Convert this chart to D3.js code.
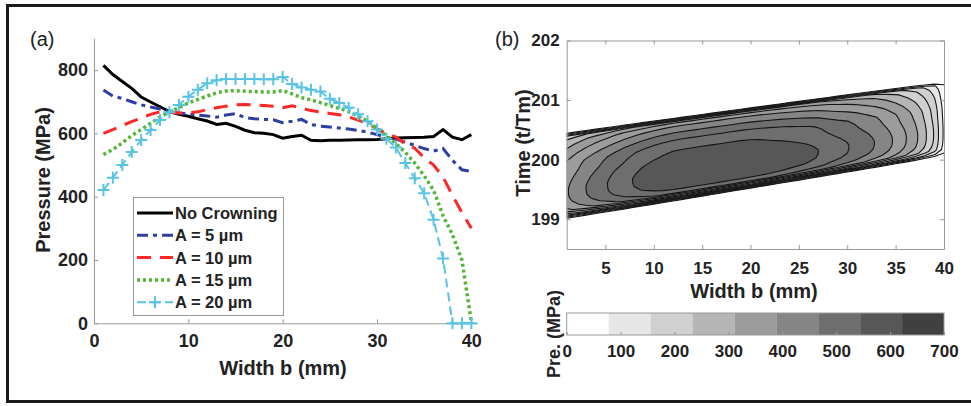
<!DOCTYPE html>
<html>
<head>
<meta charset="utf-8">
<script src="https://cdnjs.cloudflare.com/ajax/libs/d3/7.8.5/d3.min.js"></script>
<style>
  body { margin: 0; background: #fff; }
  svg { display: block; font-family: "Liberation Sans", Arial, sans-serif; }
  .tick text { font-weight: bold; fill: #222; }
  .tick line { stroke: #999; }
  .domain { stroke: #999; }
</style>
</head>
<body>
<div id="chart"></div>
<script>
// ---------- panel (a): pressure along the width ----------
let widths = d3.range(1, 41);
let noCrowning = [815, 786, 764, 742, 715, 699, 684, 669, 660, 654, 646, 639, 628, 632, 622, 610, 602, 600, 596, 585,
  590, 594, 578, 577, 578, 578, 579, 580, 580, 581, 583, 585, 586, 587, 588, 590, 612, 588, 580, 596];
let crownA5 = [737, 718, 710, 700, 690, 683, 677, 670, 664, 661, 658, 655, 651, 658, 662, 650, 646, 644, 643, 634,
  638, 644, 628, 623, 620, 617, 614, 609, 604, 596, 588, 582, 572, 562, 552, 544, 552, 515, 485, 480];
let crownA10 = [600, 612, 625, 637, 648, 660, 668, 667, 664, 665, 668, 675, 681, 686, 690, 691, 690, 688, 686, 681,
  687, 680, 672, 667, 663, 659, 652, 642, 632, 614, 600, 588, 566, 553, 523, 500, 462, 404, 350, 300];
let crownA15 = [533, 549, 570, 593, 612, 632, 652, 668, 681, 696, 707, 718, 728, 734, 735, 733, 732, 731, 731, 735,
  725, 713, 706, 697, 688, 679, 669, 654, 638, 616, 592, 568, 540, 506, 466, 420, 340, 280, 200, 5];
let crownA20 = [421, 460, 500, 541, 579, 611, 642, 667, 690, 716, 738, 758, 768, 772, 772, 772, 772, 771, 771, 778,
  756, 745, 738, 732, 709, 696, 681, 660, 638, 612, 583, 555, 506, 458, 411, 327, 205, 0, 0, 0];
let seriesNames = ['No Crowning', 'A = 5 \u00b5m', 'A = 10 \u00b5m', 'A = 15 \u00b5m', 'A = 20 \u00b5m'];
let pressureTicks = [0, 200, 400, 600, 800];
let widthTicksA = [0, 10, 20, 30, 40];

// ---------- panel (b): pressure map over width and time ----------
// pressure at the centre of the contact band for width 1..40 mm
let contourPeak = [395, 423, 450, 474, 495, 518, 537, 553, 570, 583, 592, 598, 600, 600, 600, 600, 600, 600, 600, 598,
  595, 590, 585, 578, 570, 561, 550, 533, 517, 503, 485, 466, 446, 420, 390, 354, 315, 262, 195, 90];
// relative pressure across the contact band, from its lower edge to its upper edge
let bandShape = [0, 0.55, 0.85, 0.93, 0.975, 0.995, 1.0, 1.0, 0.99, 0.975, 0.955, 0.935, 0.92, 0.90, 0.86, 0.82,
  0.77, 0.72, 0.66, 0.55, 0];
let bandEdgeWidth = [1, 40];
let bandBottom = [199.0, 200.05];
let bandTop = [200.46, 201.32];
let contourLevels = [50, 100, 150, 200, 250, 300, 350, 400, 450, 500, 550];
let widthTicksB = [5, 10, 15, 20, 25, 30, 35, 40];
let timeTicks = [199, 200, 201, 202];
let colorbarTicks = [0, 100, 200, 300, 400, 500, 600, 700];
let levelColors = ['#ffffff', '#e6e6e6', '#d0d0d0', '#b5b5b5', '#9c9c9c', '#858585', '#6e6e6e', '#575757', '#404040'];

let svg = d3.select('#chart').append('svg')
  .attr('width', 971)
  .attr('height', 406);

// outer frame
svg.append('path')
  .attr('d', 'M971,5.5 H7.5 V401.5 H971')
  .attr('fill', 'none')
  .attr('stroke', '#1a1a1a')
  .attr('stroke-width', 3);

// ================= panel (a) =================
let xA = d3.scaleLinear().domain([0, 40.6]).range([94, 477]);
let yA = d3.scaleLinear().domain([0, 900]).range([323.3, 38.4]);

svg.append('g')
  .attr('transform', 'translate(0,323.3)')
  .call(d3.axisBottom(xA).tickValues(widthTicksA).tickSizeInner(-4).tickSizeOuter(0).tickPadding(11))
  .call(g => g.selectAll('text').style('font-size', '18px'));

svg.append('g')
  .attr('transform', 'translate(94,0)')
  .call(d3.axisLeft(yA).tickValues(pressureTicks).tickSizeInner(-4).tickSizeOuter(0).tickPadding(6))
  .call(g => g.selectAll('text').style('font-size', '18px'));

let line = d3.line()
  .x(function(d, i) { return xA(widths[i]); })
  .y(function(d) { return yA(d); });

let styles = [
  { data: noCrowning, color: '#000000', width: 3, dash: null },
  { data: crownA5, color: '#2f3f9f', width: 3, dash: '11,5,4,5' },
  { data: crownA10, color: '#ff2626', width: 3, dash: '14,9' },
  { data: crownA15, color: '#52b535', width: 3.5, dash: '3,3' },
  { data: crownA20, color: '#58c4e2', width: 2, dash: '9,5' }
];

styles.forEach(function(s) {
  svg.append('path')
    .attr('d', line(s.data))
    .attr('fill', 'none')
    .attr('stroke', s.color)
    .attr('stroke-width', s.width)
    .attr('stroke-dasharray', s.dash);
});

// plus markers for A = 20 um
let plus = 'M-6,0H6M0,-6V6';
svg.append('g').selectAll('path')
  .data(crownA20)
  .enter()
  .append('path')
  .attr('transform', function(d, i) { return 'translate(' + xA(widths[i]) + ',' + yA(d) + ')'; })
  .attr('d', plus)
  .attr('stroke', '#58c4e2')
  .attr('stroke-width', 2)
  .attr('fill', 'none');

// legend
let legend = svg.append('g');
legend.append('rect')
  .attr('x', 133.5).attr('y', 197.5)
  .attr('width', 150).attr('height', 118)
  .attr('fill', '#fff')
  .attr('stroke', '#999');

styles.forEach(function(s, i) {
  let y = 213 + i * 22.3;
  legend.append('line')
    .attr('x1', 137).attr('x2', 173)
    .attr('y1', y).attr('y2', y)
    .attr('stroke', s.color)
    .attr('stroke-width', s.width)
    .attr('stroke-dasharray', s.dash);
  if (i == 4) {
    legend.append('path')
      .attr('transform', 'translate(155,' + y + ')')
      .attr('d', plus)
      .attr('stroke', s.color)
      .attr('stroke-width', 2);
  }
  legend.append('text')
    .attr('x', 175).attr('y', y + 6)
    .style('font-size', '16.5px')
    .style('font-weight', 'bold')
    .attr('fill', '#222')
    .text(seriesNames[i]);
});

svg.append('text')
  .attr('x', 30).attr('y', 46)
  .style('font-size', '20px')
  .attr('fill', '#222')
  .text('(a)');

svg.append('text')
  .attr('transform', 'translate(50,180) rotate(-90)')
  .attr('text-anchor', 'middle')
  .style('font-size', '20px')
  .style('font-weight', 'bold')
  .attr('fill', '#222')
  .text('Pressure (MPa)');

svg.append('text')
  .attr('x', 283).attr('y', 375)
  .attr('text-anchor', 'middle')
  .style('font-size', '20px')
  .style('font-weight', 'bold')
  .attr('fill', '#222')
  .text('Width b (mm)');

// ================= panel (b) =================
let xB = d3.scaleLinear().domain([1, 40]).range([566.7, 944]);
let yB = d3.scaleLinear().domain([198.5, 202]).range([249, 40.5]);
let bottomEdge = d3.scaleLinear().domain(bandEdgeWidth).range(bandBottom);
let topEdge = d3.scaleLinear().domain(bandEdgeWidth).range(bandTop);

svg.append('clipPath')
  .attr('id', 'clipB')
  .append('rect')
  .attr('x', xB(1)).attr('y', yB(202))
  .attr('width', xB(40) - xB(1))
  .attr('height', yB(198.5) - yB(202));

// grid: columns = width 1..40, rows = position across the band
let nCols = contourPeak.length;
let nRows = bandShape.length;
let grid = new Array(nCols * nRows);
for (let j = 0; j < nRows; j++) {
  for (let i = 0; i < nCols; i++) {
    grid[j * nCols + i] = contourPeak[i] * bandShape[j];
  }
}

let levelStep = 700 / 9;
let contours = d3.contours().size([nCols, nRows]).thresholds(contourLevels)(grid);

let project = d3.geoTransform({
  point: function(px, py) {
    let b = px + 0.5;
    let u = (py - 0.5) / (nRows - 1);
    let t = bottomEdge(b) + u * (topEdge(b) - bottomEdge(b));
    this.stream.point(xB(b), yB(t));
  }
});
let contourPath = d3.geoPath(project);

svg.append('g')
  .attr('clip-path', 'url(#clipB)')
  .selectAll('path')
  .data(contours)
  .enter()
  .append('path')
  .attr('d', contourPath)
  .attr('fill', function(d) { return levelColors[Math.floor((d.value + 25) / levelStep)]; })
  .attr('stroke', '#151515')
  .attr('stroke-width', 1.1)
  .attr('stroke-linejoin', 'round');

// axes box with inward ticks on all sides
svg.append('g')
  .attr('transform', 'translate(0,249)')
  .call(d3.axisBottom(xB).tickValues(widthTicksB).tickSizeInner(-4).tickSizeOuter(0).tickPadding(13))
  .call(g => g.selectAll('text').style('font-size', '17px'));
svg.append('g')
  .attr('transform', 'translate(0,40.5)')
  .call(d3.axisTop(xB).tickValues(widthTicksB).tickSizeInner(-4).tickSizeOuter(0).tickFormat(''));
svg.append('g')
  .attr('transform', 'translate(566.7,0)')
  .call(d3.axisLeft(yB).tickValues(timeTicks).tickFormat(d3.format('d')).tickSizeInner(-4).tickSizeOuter(0).tickPadding(7))
  .call(g => g.selectAll('text').style('font-size', '17px'));
svg.append('g')
  .attr('transform', 'translate(944,0)')
  .call(d3.axisRight(yB).tickValues(timeTicks).tickSizeInner(-4).tickSizeOuter(0).tickFormat(''));

svg.append('text')
  .attr('x', 495).attr('y', 46)
  .style('font-size', '20px')
  .attr('fill', '#222')
  .text('(b)');

svg.append('text')
  .attr('transform', 'translate(530,143) rotate(-90)')
  .attr('text-anchor', 'middle')
  .style('font-size', '20px')
  .style('font-weight', 'bold')
  .attr('fill', '#222')
  .text('Time (t/Tm)');

svg.append('text')
  .attr('x', 754).attr('y', 298)
  .attr('text-anchor', 'middle')
  .style('font-size', '20px')
  .style('font-weight', 'bold')
  .attr('fill', '#222')
  .text('Width b (mm)');

// colorbar
let xC = d3.scaleLinear().domain([0, 700]).range([566.7, 944]);
svg.append('g').selectAll('rect')
  .data(levelColors)
  .enter()
  .append('rect')
  .attr('x', function(d, k) { return xC(k * levelStep); })
  .attr('y', 313)
  .attr('width', xC(levelStep) - xC(0))
  .attr('height', 22)
  .attr('fill', function(d) { return d; });
svg.append('rect')
  .attr('x', 566.7).attr('y', 313)
  .attr('width', xC(700) - xC(0)).attr('height', 22)
  .attr('fill', 'none')
  .attr('stroke', '#999');
svg.append('g')
  .attr('transform', 'translate(0,335)')
  .call(d3.axisBottom(xC).tickValues(colorbarTicks).tickSizeInner(-3).tickSizeOuter(0).tickPadding(10))
  .call(g => g.select('.domain').remove())
  .call(g => g.selectAll('.tick line').attr('stroke', '#333'))
  .call(g => g.selectAll('text').style('font-size', '17px'));

svg.append('text')
  .attr('transform', 'translate(560,334) rotate(-90)')
  .attr('text-anchor', 'middle')
  .style('font-size', '18px')
  .style('font-weight', 'bold')
  .attr('fill', '#222')
  .text('Pre. (MPa)');
</script>
</body>
</html>
